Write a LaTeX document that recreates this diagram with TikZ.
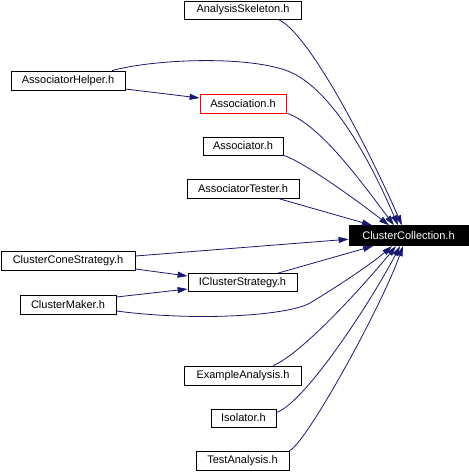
\documentclass[tikz,border=0pt]{standalone}
\usepackage{fontspec}
\setmainfont{Liberation Sans}
\usetikzlibrary{arrows.meta,calc}
\definecolor{edgeblue}{HTML}{191970}
\tikzset{
  filebox/.style={draw=black, line width=0.8pt, inner sep=0pt, minimum height=19pt,
    font=\fontsize{11}{12}\selectfont, fill=white},
  curfile/.style={filebox, draw=red},
  mainfile/.style={filebox, fill=black, text=white, minimum height=20pt},
  dep/.style={draw=edgeblue, line width=0.8pt, -{Triangle[length=10pt,width=6pt]}, color=edgeblue},
}
\begin{document}
\begin{tikzpicture}[x=1pt, y=-1pt]
\useasboundingbox (0,0) rectangle (469,472);
\node[filebox, minimum width=117pt, minimum height=18pt] (as) at (243,10) {AnalysisSkeleton.h};
\node[filebox, minimum width=114pt] (ah) at (68,80.5) {AssociatorHelper.h};
\node[curfile, minimum width=86pt] (asn) at (243,103.5) {Association.h};
\node[filebox, minimum width=80pt, minimum height=18pt] (ar) at (243,146) {Associator.h};
\node[filebox, minimum width=112pt] (at) at (243,188.5) {AssociatorTester.h};
\node[mainfile, minimum width=119pt] (cc) at (408.5,235.7) {ClusterCollection.h};
\node[filebox, minimum width=134pt] (ccs) at (68,260.5) {ClusterConeStrategy.h};
\node[filebox, minimum width=109pt, minimum height=18pt] (ics) at (242.5,282.5) {IClusterStrategy.h};
\node[filebox, minimum width=96pt] (cm) at (68,304.5) {ClusterMaker.h};
\node[filebox, minimum width=117pt] (ea) at (243,375.5) {ExampleAnalysis.h};
\node[filebox, minimum width=65pt, minimum height=18pt] (iso) at (243.5,418) {Isolator.h};
\node[filebox, minimum width=93pt] (ta) at (242.5,460.5) {TestAnalysis.h};

% edges into ClusterCollection from above
\draw[dep] ($(as.south)+(35,0)$) .. controls (305,30) and (360,130) .. ($(cc.north)+(-6.5,0)$);
\draw[dep] ($(ah.north)+(44,0)$) .. controls (150,60) and (240,55) .. (285,70)
  .. controls (330,85) and (370,160) .. ($(cc.north)+(-10.5,0)$);
\draw[dep] ($(asn.south east)+(1,0)$) .. controls (320,125) and (360,180) .. ($(cc.north)+(-14.5,0)$);
\draw[dep] (ar.south east) .. controls (300,160) and (350,195) .. ($(cc.north)+(-19.5,0)$);
\draw[dep] ($(at.south)+(35,0)$) -- ($(cc.north)+(-36.5,0)$);
% edges from the left
\draw[dep] ($(ah.east)+(0,8.5)$) -- ($(asn.west)+(0,-5.5)$);
\draw[dep] ($(ccs.east)+(0,-4.5)$) -- ($(cc.west)+(0,3.5)$);
\draw[dep] ($(ccs.east)+(0,8.5)$) -- ($(ics.west)+(0,-6.5)$);
\draw[dep] ($(cm.east)+(0,-7.5)$) -- ($(ics.west)+(0,6.5)$);
\draw[dep] ($(ics.north)+(35.5,0)$) -- ($(cc.south)+(-35.5,0)$);
\draw[dep] ($(cm.east)+(0,6.5)$) .. controls (200,322) and (290,315) .. (310,303)
  .. controls (335,288) and (370,265) .. ($(cc.south)+(-16.5,0)$);
% edges from below
\draw[dep] ($(ea.north)+(30,0)$) .. controls (300,355) and (360,290) .. ($(cc.south)+(-12.5,0)$);
\draw[dep] ($(iso.east)+(0,-5.5)$) .. controls (305,403) and (372,300) .. ($(cc.south)+(-8.5,0)$);
\draw[dep] (ta.north east) .. controls (305,445) and (380,310) .. ($(cc.south)+(-5.5,0)$);
\end{tikzpicture}
\end{document}
